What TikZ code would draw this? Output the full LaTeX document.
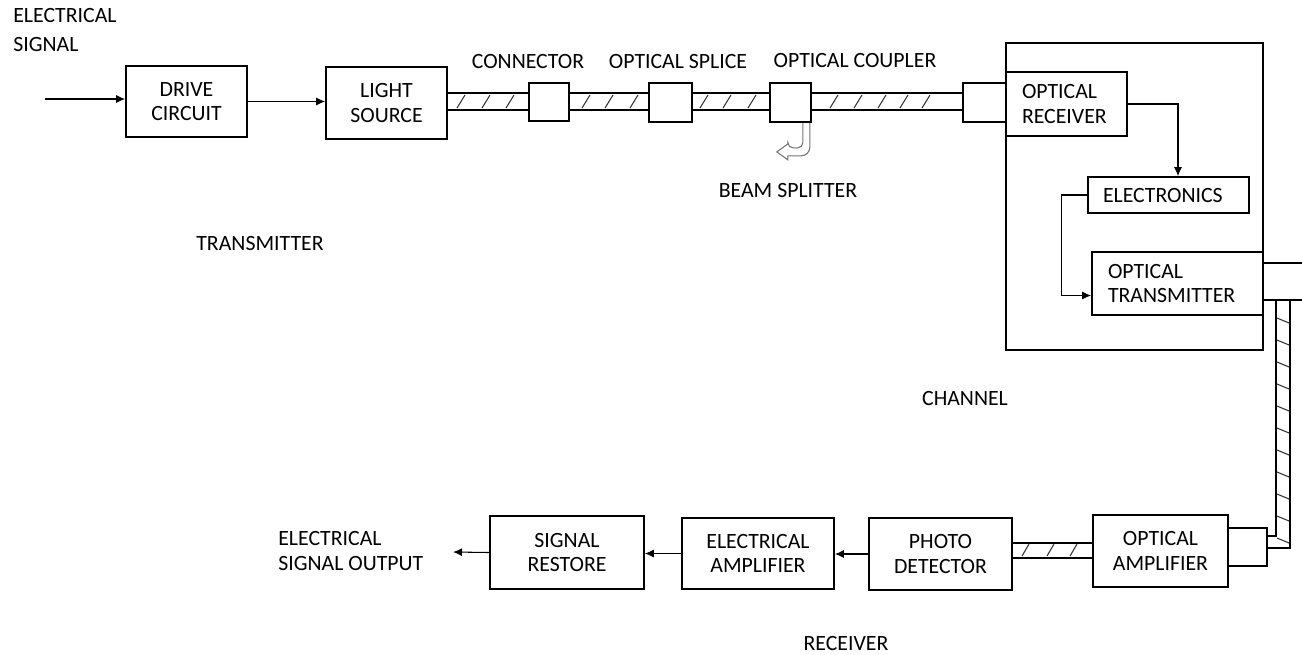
\documentclass[tikz,border=0pt]{standalone}
\usepackage{fontspec}
\setmainfont{Carlito}
\usetikzlibrary{positioning,arrows.meta,calc}
\tikzset{
  % plain block
  blk/.style    = {rectangle, draw=black, line width=1pt, align=center,
                   inner sep=0pt, font=\fontsize{12.4}{13.8}\selectfont},
  % block with text set from the left edge
  lblk/.style   = {blk, align=left, inner xsep=0.32cm},
  % small fibre joint box
  jnt/.style    = {rectangle, draw=black, line width=1pt, inner sep=0pt},
  % free caption
  lab/.style    = {font=\fontsize{12.4}{13.8}\selectfont, inner sep=0pt, align=left},
  % fibre walls and hatching
  fib/.style    = {line width=1pt, black},
  hatch/.style  = {line width=0.6pt, black!80},
  % signal arrows
  sig/.style    = {-{Latex[length=1.8mm,width=1.6mm]}, line width=0.6pt, black},
  % hollow beam splitter arrow
  beam/.style   = {line width=0.6pt, black!55},
}
\begin{document}
\begin{tikzpicture}[x=0.02cm, y=-0.02cm]
  \useasboundingbox (0,0) rectangle (1302,654);

  % transmitter chain
  \node[blk, minimum width=2.42cm, minimum height=1.42cm] (drv) at (186.5,101.5) {DRIVE\\CIRCUIT};
  \node[blk, minimum width=2.42cm, minimum height=1.44cm] (ls)  at (386.5,103)   {LIGHT\\SOURCE};

  % joints along the fibre
  \node[jnt, minimum width=0.80cm, minimum height=0.76cm] (con) at (549,102)    {};
  \node[jnt, minimum width=0.86cm, minimum height=0.78cm] (spl) at (670.5,102.5) {};
  \node[jnt, minimum width=0.82cm, minimum height=0.78cm] (cpl) at (790.5,102.5) {};
  \node[jnt, minimum width=0.86cm, minimum height=0.78cm] (rxc) at (984.5,102.5) {};

  % repeater
  \node[jnt, minimum width=5.14cm, minimum height=6.14cm] (rep) at (1134.5,196.5) {};
  \node[lblk, minimum height=1.28cm, text width=1.78cm] (orx)  at (1066.5,104) {OPTICAL\\RECEIVER};
  \node[lblk, minimum height=0.72cm, text width=2.62cm, inner xsep=0.30cm] (elec) at (1168.5,195) {ELECTRONICS};
  \node[lblk, minimum height=1.26cm, text width=2.78cm] (otx)  at (1177.5,283.5) {OPTICAL\\TRANSMITTER};
  \node[jnt, minimum width=0.90cm, minimum height=0.74cm] (otc) at (1285.5,281.5) {};

  % receiver chain
  \node[jnt, minimum width=0.78cm, minimum height=0.76cm] (oac) at (1247.5,547) {};
  \node[blk, minimum width=2.70cm, minimum height=1.44cm] (oa) at (1160.5,551)  {OPTICAL\\AMPLIFIER};
  \node[blk, minimum width=2.86cm, minimum height=1.44cm] (pd) at (940.5,554)   {PHOTO\\DETECTOR};
  \node[blk, minimum width=3.04cm, minimum height=1.42cm] (ea) at (758,553.5)   {ELECTRICAL\\AMPLIFIER};
  \node[blk, minimum width=3.08cm, minimum height=1.46cm] (sr) at (567,552.5)   {SIGNAL\\RESTORE};

  % captions
  \node[lab, anchor=west] (insig)  at (13,30)   {ELECTRICAL\\[3pt]SIGNAL};
  \node[lab] (tconn)  at (528,61)   {CONNECTOR};
  \node[lab] (tsplc)  at (678,61)   {OPTICAL SPLICE};
  \node[lab] (tcplr)  at (855,61)   {OPTICAL COUPLER};
  \node[lab] (tbeam)  at (788,190)  {BEAM SPLITTER};
  \node[lab] (ttx)    at (260,243)  {TRANSMITTER};
  \node[lab] (tchan)  at (965,398)  {CHANNEL};
  \node[lab] (trx)    at (846,643)  {RECEIVER};
  \node[lab, anchor=west] (outsig) at (278,551) {ELECTRICAL\\SIGNAL OUTPUT};

  \coordinate (in)  at (45,99);
  \coordinate (out) at (453,552);
  \coordinate (ft)  at (0,93);
  \coordinate (fb)  at (0,110);
  \coordinate (gt)  at (0,543);
  \coordinate (gb)  at (0,558);
  \coordinate (vl)  at (1276,0);
  \coordinate (vr)  at (1290,0);

  % --- edges ---
  \draw[sig] (in) -- (in -| drv.west);
  \draw[sig] (drv.east) -- (drv.east -| ls.west);
  \draw[sig] (orx.east) -| ($(elec.north)+(9.5,0)$);
  \draw[sig] (elec.west) -- ++(-26,0) |- ($(otx.west)+(0,12)$);
  \draw[sig] (pd.west) -- (pd.west -| ea.east);
  \draw[sig] (ea.west) -- (ea.west -| sr.east);
  \draw[sig] (sr.west) -- (out);

  % fibre runs
  \foreach \a/\b in {ls/con, con/spl, spl/cpl, cpl/rxc} {
    \draw[fib] (\a.east |- ft) -- (\b.west |- ft);
    \draw[fib] (\a.east |- fb) -- (\b.west |- fb);
  }
  \foreach \x in {457,482,506, 582,605,630, 700,723,748, 830,854,878,900,922}
    \draw[hatch] (\x,108) -- ++(8,-13);

  \draw[fib] (pd.east |- gt) -- (oa.west |- gt);
  \draw[fib] (pd.east |- gb) -- (oa.west |- gb);
  \foreach \x in {1022,1047,1070}
    \draw[hatch] (\x,556) -- ++(7,-12);

  \draw[fib] (otc.south -| vl) |- ($(oac.east)+(0,-11)$);
  \draw[fib] (otc.south -| vr) |- ($(oac.east)+(0,1)$);
  \foreach \y in {318,340,...,538}
    \draw[hatch] (1277,\y) -- ++(12,5);

  % beam splitter tap
  \draw[beam] ($(cpl.south east)+(-9,0)$) [rounded corners=3pt] -- ++(0,25) -- ++(-15,0)
        [sharp corners] -- ++(0,-4) -- ++(-11,8) -- ++(11,8) -- ++(0,-4)
        [rounded corners=5pt] -- ++(22,0) -- ++(0,-33);

\end{tikzpicture}
\end{document}
